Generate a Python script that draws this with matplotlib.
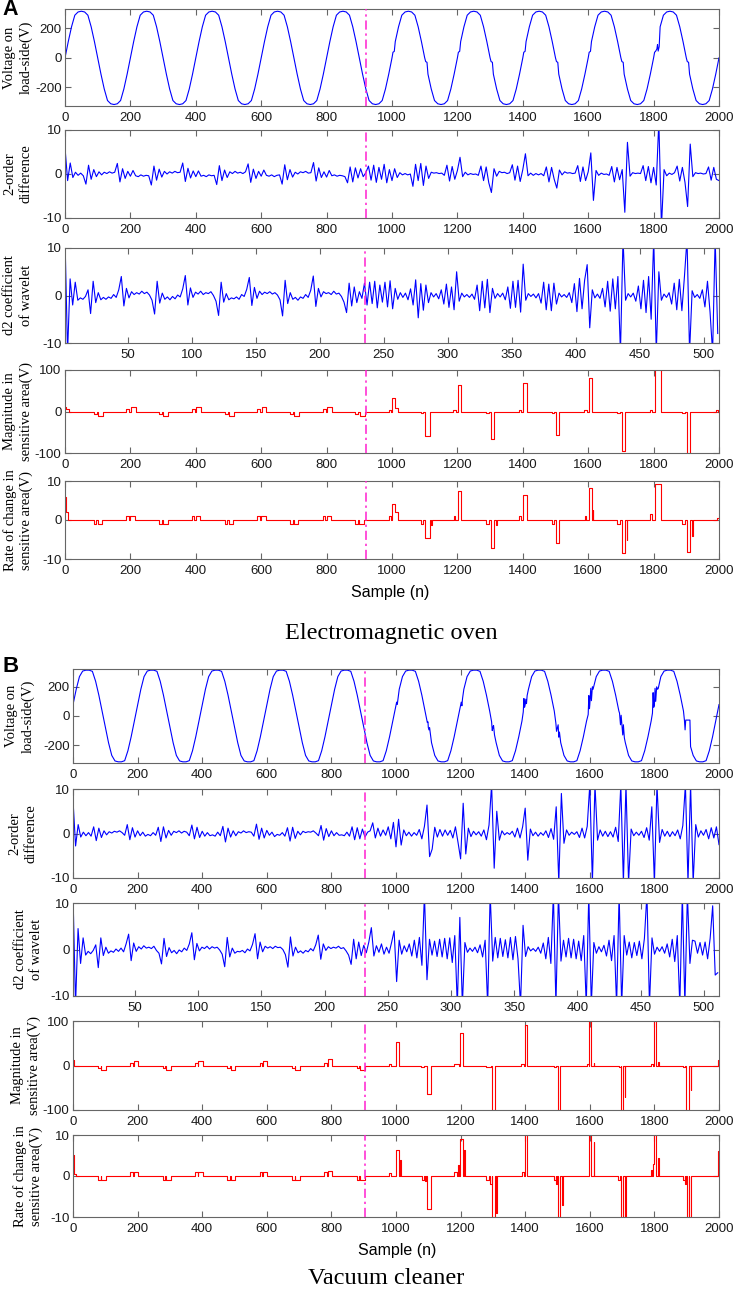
import numpy as np
import matplotlib
matplotlib.use("Agg")
import matplotlib.pyplot as plt

plt.rcParams["axes.unicode_minus"] = False

# sample where the appliance is switched on (dash-dot marker)
event_a = 920
event_b = 905

# ================= (A) electromagnetic oven =================
# load-side voltage, read every 10 samples (n = 0..2000)
volt_a = [
    0, 110, 210, 288, 310, 315, 310, 288, 210, 110, 0, -110, -210, -288, -310, -315, -310, -288, -210, -110,
    0, 110, 210, 288, 310, 315, 310, 288, 210, 110, 0, -110, -210, -288, -310, -315, -310, -288, -210, -110,
    0, 110, 210, 288, 310, 315, 310, 288, 210, 110, 0, -110, -210, -288, -310, -315, -310, -288, -210, -110,
    0, 110, 210, 288, 310, 315, 310, 288, 210, 110, 0, -110, -210, -288, -310, -315, -310, -288, -210, -110,
    0, 110, 210, 288, 310, 315, 310, 288, 210, 110, 0, -110, -210, -288, -310, -315, -310, -288, -210, -110,
    0, 110, 210, 288, 310, 315, 310, 288, 210, 110, 0, -110, -210, -288, -310, -315, -310, -288, -210, -110,
    0, 110, 210, 288, 310, 315, 310, 288, 210, 110, 0, -110, -210, -288, -310, -315, -310, -288, -210, -110,
    0, 110, 210, 288, 310, 315, 310, 288, 210, 110, 0, -110, -210, -288, -310, -315, -310, -288, -210, -110,
    0, 110, 210, 288, 310, 315, 310, 288, 210, 110, 0, -110, -210, -288, -310, -315, -310, -288, -210, -110,
    0, 60, 210, 288, 310, 315, 310, 288, 210, 110, 0, -110, -210, -288, -310, -315, -310, -288, -210, -110,
    0,
]
# small kinks near the zero crossings after switching
volt_a_kink_n = [1003, 1007, 1103, 1107, 1203, 1207, 1303, 1307, 1403, 1407, 1503, 1507,
                 1603, 1607, 1703, 1707, 1803, 1806, 1812, 1814, 1817, 1903, 1907]
volt_a_kink_v = [38, 44, -25, -30, 38, 44, -25, -30, 38, 44, -25, -30,
                 38, 44, -25, -30, 38, 44, 90, 46, 75, -25, -30]

# 2-order difference, read every 8 samples
diff_a = [
    6.0, -1.5, 2.5, -0.8, 0.4, -0.3, 0.2, -0.4, -2.3, 2.0, -1.2, 1.0, -0.6, 0.5, -0.2, 0.4, 0.1, 0.5, 0.2, 0.4, 2.4, -1.8, 1.2, -1.0, 0.6,
    -0.5, 0.8, -0.4, -0.6, -0.2, -0.5, -0.3, -0.4, -2.5, 1.8, -1.4, 1.1, -0.7, 0.6, 0.0, 0.5, 0.2, 0.6, 0.3, 0.4, 2.5, -1.7, 1.3, -0.9, 0.7,
    -0.6, 0.7, -0.5, -0.3, -0.6, -0.2, -0.4, -0.3, -2.4, 1.9, -1.5, 0.9, -0.8, 0.5, 0.1, 0.6, 0.2, 0.4, 0.1, 0.5, 2.3, -1.9, 1.1, -1.0, 0.6,
    -0.5, 0.9, -0.3, -0.5, -0.2, -0.6, -0.3, -0.2, -2.3, 2.1, -1.3, 1.0, -0.7, 0.4, 0.0, 0.5, 0.3, 0.6, 0.2, 0.3, 2.6, -1.6, 1.4, -0.8, 0.5,
    -0.7, 0.8, -0.4, -0.2, -0.5, -0.3, -0.4, -0.6, -2.0, 1.6, -1.8, 1.4, -0.9, 1.2, -0.6, 0.3, 1.8, -1.4, 2.0, -1.9, 1.5, -1.2, 2.2, -2.0, 1.0,
    -1.5, 1.2, -0.8, 0.3, -0.2, 0.1, -0.2, 0.0, -2.8, 2.2, -1.5, 2.4, -2.6, 1.8, -1.0, 0.4, 0.2, 0.3, 0.1, 0.2, -0.3, 2.0, -1.6, 1.7, -1.2,
    0.8, 3.8, -0.6, 0.4, -0.2, 0.1, -0.1, 0.0, -0.3, 1.8, -1.5, 1.6, -2.0, -4.2, 1.2, -0.5, 0.6, 0.3, 0.4, 0.1, 0.3, 2.1, -1.4, 1.8, -1.7,
    1.0, 4.6, -0.4, 0.2, -0.3, 0.1, -0.2, 0.1, -0.4, 1.6, -1.8, 1.5, -1.2, -3.2, 0.9, -0.2, 0.5, 0.2, 0.3, 0.1, 0.2, 1.9, -1.7, 1.6, -1.5,
    0.5, 4.8, -6.0, 0.8, -0.3, 0.2, -0.1, 0.0, -0.3, 1.7, -1.8, 1.5, -1.3, 1.0, -8.7, 7.2, -0.5, 0.3, 0.1, 0.2, 0.1, 1.9, -1.5, 1.7, -2.0,
    1.5, -2.5, 12, -12, 1.0, -0.4, 0.2, -0.1, 0.3, 1.8, -1.6, 1.5, -1.9, -7.4, 6.8, -0.6, 0.3, 0.1, 0.2, 0.0, 0.1, 1.6, -1.4, 1.5, -1.2,
    -1.5,
]

# d2 wavelet coefficient, read every 2 coefficients (1..511)
wav_a = [
    12, -12, 3.5, -2.0, 2.8, -1.0, -0.5, -0.8, -0.2, 1.2, -3.8, 3.0, -1.5, 0.6, -0.9, -0.4, -0.8, -0.3, -0.6, 0.2, -0.4, 1.2, 4.0, -2.2, 1.5,
    -0.5, 0.8, 0.2, 0.6, 0.3, 0.9, 0.4, 0.7, 0.1, -1.0, -3.9, 3.0, -1.6, 0.5, -0.8, -0.3, -0.9, -0.2, -0.7, 0.1, -0.3, 1.4, 4.2, -2.0, 1.6,
    -0.4, 0.7, 0.3, 0.9, 0.2, 0.6, 0.4, 0.8, 0.0, -1.2, -4.2, 2.8, -1.4, 0.4, -0.9, -0.5, -0.7, -0.3, -0.8, 0.2, -0.2, 1.3, 3.8, -2.1, 1.7,
    -0.6, 0.9, 0.2, 0.7, 0.4, 0.8, 0.3, 0.6, 0.1, -0.9, -4.3, 3.2, -1.7, 0.6, -0.8, -0.4, -1.0, -0.3, -0.6, 0.2, -0.4, 1.1, 4.1, -2.3, 1.5,
    -0.3, 0.8, 0.4, 0.6, 0.2, 0.9, 0.3, 0.5, -0.2, -1.4, -3.6, 2.6, -2.2, 1.8, -1.5, 0.8, -0.6, 2.6, -2.0, 2.8, -1.7, 3.0, -2.6, 2.2, -1.4,
    2.8, -2.4, 3.1, -2.8, 1.5, -0.8, 0.6, -0.4, 0.5, -0.9, 1.4, -2.0, 3.3, -4.7, 2.5, -3.1, 2.2, -1.5, 0.6, -0.3, 0.4, -0.7, 1.2, -1.8, 2.4,
    -2.5, 1.8, -3.0, 5.0, -1.2, 0.5, -0.3, 0.2, -0.4, 0.3, -0.8, 2.2, -3.2, 3.0, -2.6, 3.4, -3.6, 1.5, -0.6, 0.4, -0.3, 0.5, -0.9, 1.8, -2.7,
    3.0, -2.5, 3.2, -3.5, 6.6, -1.0, 0.4, -0.2, 0.3, -0.5, 0.4, -1.6, 2.8, -3.0, 2.4, -3.2, 2.6, -1.8, 0.5, -0.3, 0.2, -0.4, 0.6, -1.5, 2.5,
    -3.4, 3.6, -2.8, 3.2, 6.5, -6.8, 1.2, -0.5, 0.3, -0.6, 1.5, -2.4, 3.0, -3.3, 3.5, -2.8, 4.0, -12, 12, -1.0, 0.4, -0.3, 0.5, -1.2, 2.0,
    -2.8, 3.2, -3.6, 4.0, -5.0, 12, -12, 5.0, -1.0, 0.3, -0.4, 0.6, -1.8, 2.6, -3.0, 3.4, -3.2, 4.0, 12, -12, 1.0, -0.4, 0.2, -0.6, 1.2,
    -2.4, 3.0, -3.5, -12, 12, -8.0,
]

# magnitude in sensitive area (step breakpoints)
mag_a_n = [0, 3, 13,
           88, 97, 101, 116, 188, 197, 201, 216,
           288, 297, 301, 316, 388, 397, 401, 416,
           488, 497, 501, 516, 588, 597, 601, 616,
           688, 697, 701, 716, 788, 797, 801, 816,
           888, 897, 901, 916,
           990, 997, 1001, 1010, 1018,
           1088, 1096, 1101, 1116, 1188, 1196, 1202, 1212,
           1288, 1296, 1302, 1312, 1388, 1396, 1402, 1412,
           1488, 1496, 1502, 1512, 1588, 1596, 1602, 1612,
           1688, 1696, 1702, 1712, 1788, 1796, 1803, 1822,
           1888, 1896, 1902, 1912, 1990, 1998, 2000]
mag_a_v = [12, 5, 0,
           -5, 0, -11, 0, 5, 0, 11, 0,
           -5, 0, -11, 0, 5, 0, 11, 0,
           -5, 0, -11, 0, 5, 0, 11, 0,
           -5, 0, -11, 0, 5, 0, 11, 0,
           -5, 0, -11, 0,
           3, 0, 32, 8, 0,
           -3, 0, -60, 0, 3, 0, 64, 0,
           -3, 0, -66, 0, 3, 0, 69, 0,
           -3, 0, -56, 0, 3, 0, 80, 0,
           -3, 0, -96, 0, 3, 0, 115, 0,
           -3, 0, -115, 0, 3, 0, 0]

# rate of change in sensitive area (step breakpoints)
rate_a_n = [0, 2, 8,
            88, 96, 100, 114, 188, 196, 200, 214,
            288, 296, 300, 314, 388, 396, 400, 414,
            488, 496, 500, 514, 588, 596, 600, 614,
            688, 696, 700, 714, 788, 796, 800, 814,
            888, 896, 900, 914,
            990, 997, 1001, 1009, 1018,
            1088, 1096, 1101, 1116, 1120, 1122,
            1190, 1194, 1203, 1210,
            1288, 1296, 1302, 1312, 1318, 1320,
            1388, 1396, 1402, 1412,
            1488, 1496, 1502, 1512,
            1590, 1594, 1602, 1612, 1614, 1616,
            1688, 1696, 1702, 1712, 1718, 1720,
            1788, 1796, 1803, 1822,
            1888, 1896, 1902, 1912, 1918, 1920,
            1995, 2000]
rate_a_v = [6, 2, 0,
            -1, 0, -1, 0, 1, 0, 1, 0,
            -1, 0, -1, 0, 1, 0, 1, 0,
            -1, 0, -1, 0, 1, 0, 1, 0,
            -1, 0, -1, 0, 1, 0, 1, 0,
            -1, 0, -1, 0,
            1, 0, 4.2, 2, 0,
            -1, 0, -4.5, 0, -1.2, 0,
            1, 0, 7.4, 0,
            -1, 0, -7.3, 0, -1.2, 0,
            1, 0, 6.5, 0,
            -1, 0, -6, 0,
            1, 0, 8.2, 0, 2.6, 0,
            -1, 0, -8.5, 0, -5, 0,
            1.5, 0, 9.2, 0,
            -1, 0, -8.2, 0, -4, 0,
            0.5, 0.5]

# ================= (B) vacuum cleaner =================
volt_b = [
    78, 183, 270, 308, 314, 314, 306, 238, 143, 34, -78, -183, -270, -308, -314, -314, -306, -238, -143, -34,
    78, 183, 270, 308, 314, 314, 306, 238, 143, 34, -78, -183, -270, -308, -314, -314, -306, -238, -143, -34,
    78, 183, 270, 308, 314, 314, 306, 238, 143, 34, -78, -183, -270, -308, -314, -314, -306, -238, -143, -34,
    78, 183, 270, 308, 314, 314, 306, 238, 143, 34, -78, -183, -270, -308, -314, -314, -306, -238, -143, -34,
    78, 183, 270, 308, 314, 314, 306, 238, 143, 34, -78, -183, -270, -308, -314, -314, -306, -238, -143, -34,
    78, 183, 270, 308, 314, 314, 306, 238, 143, 34, -78, -183, -270, -308, -314, -314, -306, -238, -143, -34,
    78, 183, 270, 308, 314, 314, 306, 238, 143, 34, -78, -183, -270, -308, -314, -314, -306, -238, -143, -34,
    78, 183, 270, 308, 314, 314, 306, 238, 143, 34, -78, -183, -270, -308, -314, -314, -306, -238, -143, -34,
    78, 183, 270, 308, 314, 314, 306, 238, 143, 34, -78, -183, -270, -308, -314, -314, -306, -238, -143, -34,
    78, 183, 270, 308, 314, 314, 306, 238, 143, 34, -28, -28, -270, -308, -314, -314, -306, -238, -143, -34,
    78,
]
volt_b_kink_n = [1002, 1004, 1097, 1099, 1102, 1104, 1198, 1202, 1204, 1206, 1296, 1298, 1302, 1305,
                 1394, 1396, 1398, 1402, 1404, 1406, 1495, 1497, 1502, 1504, 1506,
                 1595, 1597, 1599, 1603, 1605, 1608, 1692, 1695, 1697, 1702, 1704, 1707,
                 1794, 1796, 1798, 1802, 1804, 1807, 1812, 1893, 1895, 1897, 1912]
volt_b_kink_v = [95, 80, -45, -40, -95, -80, 55, 95, 70, 120, -40, -100, -65, -130,
                 28, 120, 60, 115, 85, 140, -50, -105, -60, -145, -110,
                 10, 140, 50, 190, 105, 200, 20, -60, 5, -130, -60, -150,
                 20, 160, 60, 190, 100, 200, 190, -30, -95, -28, -210]

diff_b = [
    7.5, -2.8, 2.0, -0.8, 0.3, -0.5, 0.2, -0.6, 1.5, -1.6, 1.2, -0.9, 0.6, -0.3, 0.4, 0.1, 0.5, 0.3, 0.6, 0.2, -0.4, 2.0, -1.4, 1.3, -0.8,
    0.6, -0.5, 0.3, -0.6, -0.2, -0.5, 0.2, -0.4, 1.4, -1.8, 1.5, -1.0, 0.7, -0.4, 0.5, 0.2, 0.6, 0.1, 0.5, 0.3, -0.5, 1.9, -1.2, 1.4, -0.9,
    0.5, -0.6, 0.2, -0.5, -0.3, -0.6, 0.3, -0.5, 1.6, -1.9, 1.2, -0.8, 0.6, -0.5, 0.4, 0.1, 0.6, 0.2, 0.4, 0.3, -0.6, 2.1, -1.3, 1.2, -1.0,
    0.7, -0.4, 0.3, -0.7, -0.2, -0.4, 0.2, -0.6, 1.3, -1.7, 1.4, -1.1, 0.5, -0.3, 0.5, 0.2, 0.4, 0.3, 0.6, 0.1, -0.5, 1.8, -1.5, 1.1, -0.7,
    0.6, -0.5, 0.2, -0.4, -0.3, -0.5, 0.3, -0.6, 1.5, -1.4, 1.3, -1.2, 1.0, -0.8, 0.3, 0.6, 2.4, -1.0, 1.2, -0.6, 0.8, -0.4, 1.5, -1.2, 2.5,
    -3.0, 3.2, -2.6, 0.8, -0.5, 0.3, -0.6, 0.2, -0.4, 0.9, -1.2, 1.6, 6.4, -5.2, -3.5, 1.4, -0.8, 0.9, -0.6, 0.8, -0.4, 0.7, -1.0, 1.5, -2.0,
    -5.7, 6.8, -4.6, 1.2, -0.7, 0.5, -0.3, 0.4, -0.6, 0.8, -1.4, 1.9, 11, -7.8, 5.0, -1.5, 0.6, -0.3, 0.2, -0.2, 0.5, -0.8, 1.2, -1.0, 1.5,
    5.7, -6.0, 1.0, -0.5, 0.3, -0.6, 0.2, -0.4, 0.6, -0.9, 1.1, -1.3, 6.0, -11, 9.0, -2.2, 0.8, -0.4, 0.3, -0.2, 0.4, -0.9, 1.2, -1.0, 1.6,
    11, -11, 11, -1.5, 0.8, -0.6, 0.5, -0.7, 0.4, -0.8, 1.4, -1.8, 11, -11, 11, -11, 1.0, -0.5, 0.3, -0.4, 0.5, -0.9, 1.3, -1.5, 6.0,
    -11, 11, -2.0, 0.9, -0.6, 0.5, -0.7, 0.4, -0.5, 0.8, -1.2, 1.8, 11, -11, 11, -11, 2.0, -0.8, 0.6, -0.4, 0.9, -1.2, 1.3, -1.0, 1.5,
    -2.5,
]

wav_b = [
    12, -12, 4.5, -3.0, 2.5, -1.2, -0.4, -0.9, -0.2, 1.0, -3.9, 2.5, -1.3, 0.5, -0.8, -0.3, -0.6, 0.1, -0.4, 0.3, -0.5, 1.2, 3.3, -2.4, 1.4,
    -0.4, 0.6, 0.1, 0.8, 0.3, 0.5, 0.2, 0.7, -0.2, -0.8, -3.1, 2.4, -1.5, 0.4, -0.7, -0.2, -0.9, -0.1, -0.5, 0.3, -0.2, 1.2, 3.6, -2.2, 1.3,
    -0.3, 0.5, 0.2, 0.7, 0.1, 0.6, 0.3, 0.5, -0.1, -1.0, -3.7, 2.6, -1.6, 0.3, -0.8, -0.4, -0.5, -0.2, -0.7, 0.1, -0.3, 1.1, 3.4, -2.0, 1.6,
    -0.5, 0.7, 0.3, 0.6, 0.2, 0.7, 0.4, 0.5, 0.0, -1.1, -3.8, 2.7, -1.4, 0.5, -0.7, -0.3, -0.8, -0.2, -0.5, 0.2, -0.3, 1.0, 3.1, -2.1, 1.2,
    -0.2, 0.6, 0.2, 0.5, 0.3, 0.7, 0.2, 0.4, -0.3, -1.2, -3.2, 2.2, -2.0, 1.6, -1.3, 0.9, -0.7, 1.6, 4.7, -1.4, 0.8, -0.6, 1.2, -1.0, 0.5,
    -0.8, 1.5, 4.0, -6.9, 2.0, -1.0, 0.8, -0.5, 1.2, -1.4, 2.0, -1.8, 2.6, -3.4, 12, -6.5, 2.2, -1.2, 1.8, -1.5, 2.2, -1.6, 2.4, -2.0, 2.5,
    -2.8, 3.0, -12, 6.9, -12, 1.5, -0.6, 0.3, -0.4, 0.5, -0.7, 1.0, -1.6, 2.0, -12, 12, -2.5, 2.6, -1.8, 2.4, -1.5, 2.1, -1.8, 2.6, -2.2,
    2.8, -2.0, -12, 5.2, -1.5, 0.6, -0.3, 0.2, -0.4, 0.5, -0.8, 1.4, -2.0, 2.6, -3.0, 12, -12, 12, -2.5, 2.0, -1.6, 2.4, -1.8, 2.2, -2.0,
    1.8, -2.4, 3.0, -12, 12, -12, 1.5, -0.8, 0.6, -0.5, 0.9, -1.4, 2.0, -2.4, 3.0, -12, 12, -12, 3.0, -1.2, 1.6, -1.8, 1.5, -1.3, 1.8,
    -2.0, 2.4, 12, -12, 2.5, -1.0, 0.5, -0.4, 0.6, -0.8, 1.2, -1.6, 2.2, -2.6, 3.0, -12, 12, -12, 12, -3.0, 2.0, 1.8, -0.8, 1.5, -1.2,
    1.6, -2.0, 2.4, 9.4, -5.5, -5.0,
]

mag_b_n = [0, 3,
           78, 86, 88, 103, 178, 186, 188, 202,
           278, 286, 288, 303, 378, 386, 388, 402,
           478, 486, 488, 503, 578, 586, 588, 602,
           678, 686, 688, 703, 778, 786, 788, 802,
           878, 886, 888, 903,
           978, 986, 999, 1009,
           1078, 1086, 1096, 1108,
           1180, 1195, 1198, 1207,
           1280, 1295, 1298, 1306,
           1388, 1396, 1398, 1406,
           1490, 1496, 1500, 1508,
           1590, 1596, 1598, 1604, 1612, 1614,
           1690, 1696, 1698, 1704, 1708, 1710,
           1790, 1796, 1798, 1806, 1812, 1814,
           1890, 1896, 1898, 1906, 1912, 1914,
           1998, 2000]
mag_b_v = [12, 0,
           -5, 0, -11, 0, 5, 0, 11, 0,
           -5, 0, -11, 0, 5, 0, 11, 0,
           -5, 0, -11, 0, 5, 0, 11, 0,
           -5, 0, -11, 0, 5, 0, 15, 0,
           -5, 0, -11, 0,
           3, 0, 52, 0,
           -3, 0, -63, 0,
           3, 0, 73, 0,
           -3, 0, -115, 0,
           3, 0, 92, 0,
           -3, 0, -115, 0,
           3, 0, 115, 0, 5, 0,
           -3, 0, -115, 0, -71, 0,
           3, 0, 115, 0, 8, 0,
           -3, 0, -115, 0, -56, 0,
           12, 12]

rate_b_n = [0, 2, 8,
            78, 86, 88, 103, 178, 186, 188, 202,
            278, 286, 288, 303, 378, 386, 388, 402,
            478, 486, 488, 503, 578, 586, 588, 602,
            678, 686, 688, 703, 778, 786, 788, 802,
            878, 886, 888, 903,
            978, 986, 1000, 1008, 1012, 1014,
            1080, 1088, 1090, 1094, 1096, 1108,
            1180, 1190, 1192, 1196, 1198, 1206, 1212, 1214,
            1280, 1288, 1290, 1296, 1298, 1306, 1311, 1313,
            1390, 1396, 1398, 1406,
            1488, 1494, 1496, 1499, 1500, 1508, 1514, 1516,
            1598, 1604, 1612, 1614,
            1688, 1694, 1698, 1704, 1709, 1712,
            1788, 1794, 1796, 1798, 1804, 1812, 1814,
            1888, 1894, 1895, 1898, 1900, 1906, 1908, 1912,
            1997, 2000]
rate_b_v = [5.2, 0.5, 0,
            -1, 0, -1, 0, 1, 0, 1, 0,
            -1, 0, -1, 0, 1, 0, 1, 0,
            -1, 0, -1, 0, 1, 0, 1, 0,
            -1, 0, -1, 0, 1, 0, 1.2, 0,
            -1, 0, -1, 0,
            0.8, 0, 6.4, 0, 3.8, 0,
            -1, 0, -1.3, 0, -8.1, 0,
            1, 0, 2.7, 0, 9, 0, 6.4, 0,
            -1, 0, -2, 0, -11, 0, -9, 0,
            1, 0, 11, 0,
            -1, 0, -2, 0, -11, 0, -7, 0,
            11, 0, 8.2, 0,
            -1, 0, -11, 0, -11, 0,
            1.5, 0, 3, 11, 0, 4.5, 0,
            -1, 0, -2, 0, -11, 0, -11, 0,
            6, 6]

ylabels = ["Voltage on\nload-side(V)", "2-order\ndifference", "d2 coefficient\nof wavelet",
           "Magnitude in\nsensitive area(V)", "Rate of change in\nsensitive area(V)"]

# ---------------- drawing ----------------
W, H = 733, 1290
fig = plt.figure(figsize=(W / 100, H / 100), dpi=100)

SANS = "Liberation Sans"
SERIF = "Liberation Serif"
FRAME = "#666666"
BLUE = "#0000ff"
RED = "#ff0000"
MAGENTA = "#ff1fcf"
DASHDOT = (0, (6, 2.5, 1.5, 2.5))


def merge(grid, kink_n, kink_v, step):
    n = np.concatenate([np.arange(len(grid)) * step, kink_n])
    v = np.concatenate([grid, kink_v])
    order = np.argsort(n, kind="stable")
    return n[order], v[order]


def panel(left, top, right, bottom, label, label_x):
    ax = fig.add_axes([left / W, 1 - bottom / H, (right - left) / W, (bottom - top) / H])
    for s in ax.spines.values():
        s.set_color(FRAME)
        s.set_linewidth(0.8)
    ax.tick_params(direction="in", top=True, right=True, length=4, width=0.8,
                   color=FRAME, labelsize=9.5, labelcolor="#1a1a1a")
    ax.tick_params(axis="x", pad=4)
    ax.tick_params(axis="y", pad=2.5)
    fig.text(label_x / W, 1 - (top + bottom) / 2 / H, label, rotation=90, ha="center",
             va="center", family=SERIF, size=10.5, linespacing=1.3, multialignment="center")
    return ax


def fix_fonts(ax):
    for t in ax.get_xticklabels() + ax.get_yticklabels():
        t.set_family(SANS)
        t.set_size(9.5)


def draw_group(rows, left, label_xs, event, volt, kn, kv, vlim, diff, wav,
               mag_n, mag_v, rate_n, rate_v):
    axes = [panel(left, t, 719, b, lab, lx) for (t, b), lab, lx in zip(rows, ylabels, label_xs)]
    a1, a2, a3, a4, a5 = axes

    n, v = merge(np.array(volt, float), kn, kv, 10)
    a1.plot(n, v, color=BLUE, lw=0.8)
    a1.set_ylim(*vlim)
    a1.set_yticks([-200, 0, 200])

    a2.plot(np.arange(len(diff)) * 8, diff, color=BLUE, lw=0.8)
    a2.set_ylim(-10, 10)
    a2.set_yticks([-10, 0, 10])

    a3.plot(np.arange(len(wav)) * 2 + 1, wav, color=BLUE, lw=0.8)
    a3.set_ylim(-10, 10)
    a3.set_yticks([-10, 0, 10])
    a3.set_xlim(1, 512)
    a3.set_xticks(np.arange(50, 501, 50))

    a4.step(mag_n, mag_v, where="post", color=RED, lw=0.8)
    a4.set_ylim(-100, 100)
    a4.set_yticks([-100, 0, 100])

    a5.step(rate_n, rate_v, where="post", color=RED, lw=0.8)
    a5.set_ylim(-10, 10)
    a5.set_yticks([-10, 0, 10])

    for ax in (a1, a2, a4, a5):
        ax.set_xlim(0, 2000)
        ax.set_xticks(np.arange(0, 2001, 200))
        ax.axvline(event, color=MAGENTA, lw=1.1, ls=DASHDOT, zorder=5)
    a3.axvline(event / 2000 * 512, color=MAGENTA, lw=1.1, ls=DASHDOT, zorder=5)
    for ax in axes:
        fix_fonts(ax)
    return axes


draw_group([(9, 106), (130, 218), (248, 343), (370, 453), (481, 559)], 65,
           [18, 18, 18, 18, 18], event_a, volt_a, volt_a_kink_n, volt_a_kink_v, (-325, 330),
           diff_a, wav_a, mag_a_n, mag_a_v, rate_a_n, rate_a_v)
draw_group([(669, 763), (789, 878), (903, 996), (1021, 1110), (1135, 1217)], 73,
           [20, 23, 28, 26, 28], event_b, volt_b, volt_b_kink_n, volt_b_kink_v, (-322, 322),
           diff_b, wav_b, mag_b_n, mag_b_v, rate_b_n, rate_b_v)

fig.text(390 / W, 1 - 593 / H, "Sample (n)", ha="center", va="center", family=SANS, size=11.5)
fig.text(397 / W, 1 - 1250 / H, "Sample (n)", ha="center", va="center", family=SANS, size=11.5)
fig.text(391 / W, 1 - 639 / H, "Electromagnetic oven", ha="center", va="baseline",
         family=SERIF, size=17.5)
fig.text(386 / W, 1 - 1284 / H, "Vacuum cleaner", ha="center", va="baseline",
         family=SERIF, size=17.5)
fig.text(2 / W, 1 - 15 / H, "A", ha="left", va="baseline", family=SANS, weight="bold", size=15.5)
fig.text(3 / W, 1 - 672 / H, "B", ha="left", va="baseline", family=SANS, weight="bold", size=16)

fig.savefig("out.png", dpi=100)
